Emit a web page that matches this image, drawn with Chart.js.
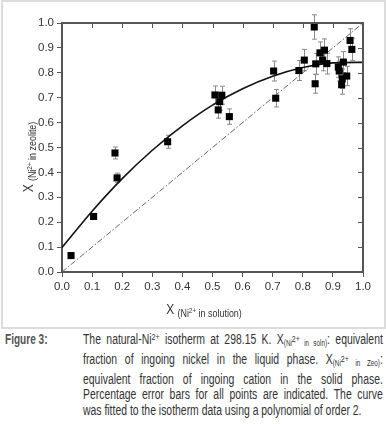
<!DOCTYPE html>
<html>
<head>
<meta charset="utf-8">
<script src="https://cdn.jsdelivr.net/npm/chart.js@4.4.1/dist/chart.umd.min.js"></script>
<style>
body { margin: 0; background: #fff; width: 386px; height: 424px; overflow: hidden; position: relative;
       font-family: "Liberation Sans", Arial, sans-serif; }
#frame { position: absolute; left: 1px; top: 0; width: 381px; height: 325px; border: 2px solid #dcdcdc; }
#isotherm { position: absolute; left: 0; top: 0; }
#figLabel { position: absolute; left: 5px; top: 332px; font-weight: bold; font-size: 14px; line-height: 15.8px;
            color: #555; transform: scaleX(0.72); transform-origin: 0 0; }
#caption { position: absolute; left: 83px; top: 332px; width: 403px; font-size: 14px; line-height: 15.8px;
           color: #333; transform: scaleX(0.744); transform-origin: 0 0; }
#caption .j { text-align: justify; text-align-last: justify; }
#caption .s { font-size: 8.5px; vertical-align: -2px; }
#caption sup { font-size: 9.5px; vertical-align: 4px; line-height: 0; }
</style>
</head>
<body>
<div id="frame"></div>
<canvas id="isotherm" width="386" height="330"></canvas>
<div id="figLabel">Figure 3:</div>
<div id="caption">
  <div class="j">The natural-Ni<sup>2+</sup> isotherm at 298.15 K. X<span class="s">(Ni<sup>2+</sup> in soln)</span>: equivalent</div>
  <div class="j">fraction of ingoing nickel in the liquid phase. X<span class="s">(Ni<sup>2+</sup> in Zeo)</span>:</div>
  <div class="j">equivalent fraction of ingoing cation in the solid phase.</div>
  <div class="j">Percentage error bars for all points are indicated. The curve</div>
  <div>was fitted to the isotherm data using a polynomial of order 2.</div>
</div>
<script>
const pointX = [0.030, 0.105, 0.176, 0.183, 0.351, 0.508, 0.531, 0.524, 0.519, 0.556,
                0.703, 0.710, 0.787, 0.805, 0.838, 0.843, 0.841, 0.857, 0.872, 0.866,
                0.880, 0.918, 0.921, 0.935, 0.931, 0.929, 0.946, 0.957, 0.963];
const pointY = [0.066, 0.223, 0.478, 0.378, 0.523, 0.711, 0.710, 0.684, 0.651, 0.624,
                0.807, 0.698, 0.809, 0.851, 0.984, 0.836, 0.756, 0.880, 0.891, 0.851,
                0.837, 0.823, 0.807, 0.843, 0.776, 0.752, 0.787, 0.930, 0.894];
const pointErr = [0.003, 0.011, 0.024, 0.019, 0.026, 0.036, 0.036, 0.034, 0.033, 0.031,
                  0.040, 0.035, 0.040, 0.043, 0.049, 0.042, 0.038, 0.044, 0.045, 0.043,
                  0.042, 0.041, 0.040, 0.042, 0.039, 0.038, 0.039, 0.047, 0.045];

// fitted curve, read at each 0.1
const curveX = [0.0, 0.1, 0.2, 0.3, 0.4, 0.5, 0.6, 0.7, 0.8, 0.9, 1.0];
const curveY = [0.098, 0.244, 0.375, 0.489, 0.587, 0.670, 0.736, 0.786, 0.821, 0.840, 0.842];

// x = y reference line
const diagX = [0, 1];
const diagY = [0, 1];

const axisTicks = [0.0, 0.1, 0.2, 0.3, 0.4, 0.5, 0.6, 0.7, 0.8, 0.9, 1.0];

const FONT = '"Liberation Sans", Arial, sans-serif';
const AXIS_COLOR = '#555';

const toXY = (xs, ys) => xs.map((v, i) => ({ x: v, y: ys[i] }));

const errorBars = {
    id: 'errorBars',
    beforeDatasetsDraw(chart) {
        const { ctx, scales: { x, y } } = chart;
        ctx.save();
        ctx.strokeStyle = '#8a8a8a';
        ctx.lineWidth = 1;
        pointX.forEach((px, i) => {
            const cx = Math.round(x.getPixelForValue(px)) + 0.5;
            const top = y.getPixelForValue(pointY[i] + pointErr[i]);
            const bot = y.getPixelForValue(pointY[i] - pointErr[i]);
            ctx.beginPath();
            ctx.moveTo(cx, top); ctx.lineTo(cx, bot);
            ctx.moveTo(cx - 2.5, top); ctx.lineTo(cx + 2.5, top);
            ctx.moveTo(cx - 2.5, bot); ctx.lineTo(cx + 2.5, bot);
            ctx.stroke();
        });
        ctx.restore();
    }
};

// top and right axis lines with inward ticks
const boxAxes = {
    id: 'boxAxes',
    afterDraw(chart) {
        const { ctx, chartArea: a, scales: { x, y } } = chart;
        ctx.save();
        ctx.strokeStyle = AXIS_COLOR;
        ctx.lineWidth = 2;
        ctx.beginPath();
        ctx.moveTo(a.left, a.top); ctx.lineTo(a.right, a.top); ctx.lineTo(a.right, a.bottom);
        ctx.stroke();
        ctx.lineWidth = 1;
        ctx.beginPath();
        x.ticks.forEach(t => {
            const px = Math.round(x.getPixelForValue(t.value)) + 0.5;
            ctx.moveTo(px, a.top); ctx.lineTo(px, a.top + 5);
        });
        y.ticks.forEach(t => {
            const py = Math.round(y.getPixelForValue(t.value)) + 0.5;
            ctx.moveTo(a.right, py); ctx.lineTo(a.right - 5, py);
        });
        ctx.stroke();
        ctx.restore();
    }
};

// "X" with a small subscript, drawn piece by piece (slightly condensed)
function drawTitle(ctx, parts, cx, cy, rotate) {
    ctx.save();
    ctx.translate(cx, cy);
    if (rotate) ctx.rotate(-Math.PI / 2);
    ctx.scale(0.85, 1);
    let total = 0;
    parts.forEach(p => { ctx.font = p.size + 'px ' + FONT; total += ctx.measureText(p.t).width; });
    let pos = -total / 2;
    ctx.fillStyle = '#333';
    ctx.textBaseline = 'alphabetic';
    parts.forEach(p => {
        ctx.font = p.size + 'px ' + FONT;
        ctx.fillText(p.t, pos, p.dy);
        pos += ctx.measureText(p.t).width;
    });
    ctx.restore();
}

const axisTitles = {
    id: 'axisTitles',
    afterDraw(chart) {
        const ctx = chart.ctx;
        drawTitle(ctx, [
            { t: 'X ', size: 14, dy: 0 },
            { t: '(Ni', size: 10.5, dy: 3 },
            { t: '2+', size: 7.5, dy: -1 },
            { t: ' in solution)', size: 10.5, dy: 3 }
        ], 204, 314, false);
        drawTitle(ctx, [
            { t: 'X ', size: 14, dy: 0 },
            { t: '(Ni', size: 10.5, dy: 3 },
            { t: '2+', size: 7.5, dy: -1 },
            { t: ' in zeolite)', size: 10.5, dy: 3 }
        ], 33, 157, true);
    }
};

function axisOptions(fit) {
    return {
        type: 'linear',
        min: 0,
        max: 1,
        afterBuildTicks: s => { s.ticks = axisTicks.map(v => ({ value: v })); },
        afterFit: fit,
        ticks: {
            callback: v => Number(v).toFixed(1),
            color: '#333',
            font: { family: FONT, size: 11.5 },
            padding: 3,
            maxRotation: 0,
            autoSkip: false
        },
        grid: { drawOnChartArea: false, drawTicks: true, tickLength: 5, color: AXIS_COLOR, lineWidth: 1 },
        border: { display: true, color: AXIS_COLOR, width: 2 }
    };
}

new Chart(document.getElementById('isotherm').getContext('2d'), {
    type: 'scatter',
    data: {
        datasets: [{
            label: 'data',
            data: toXY(pointX, pointY),
            pointStyle: 'rect',
            pointRadius: 5,
            pointBackgroundColor: '#000',
            pointBorderWidth: 0
        }, {
            label: 'fit',
            data: toXY(curveX, curveY),
            showLine: true,
            pointRadius: 0,
            borderColor: '#111',
            borderWidth: 1.6,
            cubicInterpolationMode: 'monotone'
        }, {
            label: 'x=y',
            data: toXY(diagX, diagY),
            showLine: true,
            pointRadius: 0,
            borderColor: '#666',
            borderWidth: 1,
            borderDash: [6, 2, 1.5, 2]
        }]
    },
    options: {
        responsive: false,
        animation: false,
        layout: { padding: { left: 0, right: 23, top: 23, bottom: 0 } },
        scales: {
            x: axisOptions(s => { s.height = 58; }),
            y: axisOptions(s => { s.width = 62; })
        },
        plugins: { legend: { display: false }, tooltip: { enabled: false } }
    },
    plugins: [errorBars, boxAxes, axisTitles]
});
</script>
</body>
</html>
